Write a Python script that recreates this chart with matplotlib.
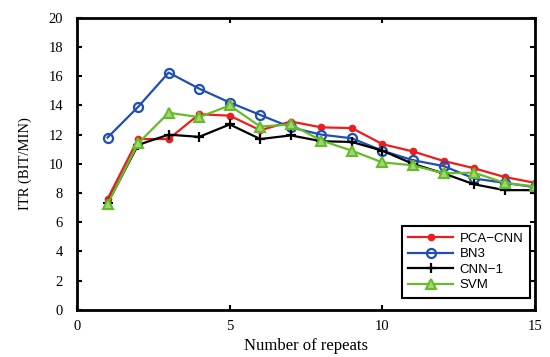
import matplotlib
matplotlib.use("Agg")
import matplotlib.pyplot as plt

repeats = list(range(1, 16))
pca_cnn = [7.6, 11.7, 11.7, 13.4, 13.3, 12.3, 12.9, 12.5, 12.45, 11.35, 10.85, 10.2, 9.7, 9.1, 8.7]
bn3 = [11.8, 13.9, 16.25, 15.15, 14.2, 13.35, 12.5, 12.0, 11.75, 10.9, 10.25, 9.85, 9.0, 8.7, 8.4]
cnn1 = [7.3, 11.3, 12.0, 11.85, 12.7, 11.7, 11.95, 11.55, 11.5, 10.9, 10.0, 9.35, 8.6, 8.2, 8.2]
svm = [7.25, 11.4, 13.5, 13.2, 14.0, 12.55, 12.7, 11.6, 10.9, 10.1, 9.9, 9.35, 9.4, 8.7, 8.45]
xticks = [0, 5, 10, 15]
yticks = [0, 2, 4, 6, 8, 10, 12, 14, 16, 18, 20]

fig = plt.figure(figsize=(5.5, 3.57), dpi=100)
ax = fig.add_axes([0.14, 0.132, 0.833, 0.818])

ax.plot(repeats, pca_cnn, color="#ee1c1c", lw=1.6, marker="o", ms=4.5, mfc="#ee1c1c", mec="#ee1c1c", label="PCA\u2212CNN")
ax.plot(repeats, bn3, color="#1f4fb4", lw=1.6, marker="o", ms=6.5, mfc="none", mec="#1f4fb4", mew=1.6, label="BN3")
ax.plot(repeats, cnn1, color="black", lw=1.6, marker="+", ms=7, mew=1.6, label="CNN\u22121")
ax.plot(repeats, svm, color="#66bb2a", lw=1.6, marker="^", ms=7, mfc="#a0d870", mec="#66bb2a", mew=1.5, label="SVM")

ax.set_xlim(0, 15)
ax.set_ylim(0, 20)
ax.set_xticks(xticks)
ax.set_yticks(yticks)
for s in ax.spines.values():
    s.set_linewidth(2)
ax.tick_params(direction="in", top=True, right=True, width=1.5, length=3.5, labelsize=10.5)
ax.tick_params(axis="y", pad=10)
ax.tick_params(axis="x", pad=7)
for lab in ax.get_xticklabels() + ax.get_yticklabels():
    lab.set_family("Liberation Serif")
ax.set_xlabel("Number of repeats", family="Liberation Serif", fontsize=12, labelpad=4)
ax.set_ylabel("ITR (BIT/MIN)", family="Liberation Serif", fontsize=10.5, labelpad=12)

leg = ax.legend(loc="lower right", bbox_to_anchor=(0.989, 0.041),
                prop={"family": "Liberation Sans", "size": 9.5},
                fancybox=False, edgecolor="black", framealpha=1, handlelength=3.4,
                borderaxespad=0.0, labelspacing=0.25, borderpad=0.5, handletextpad=0.5)
leg.get_frame().set_linewidth(1.5)

fig.savefig("out.png", dpi=100)
